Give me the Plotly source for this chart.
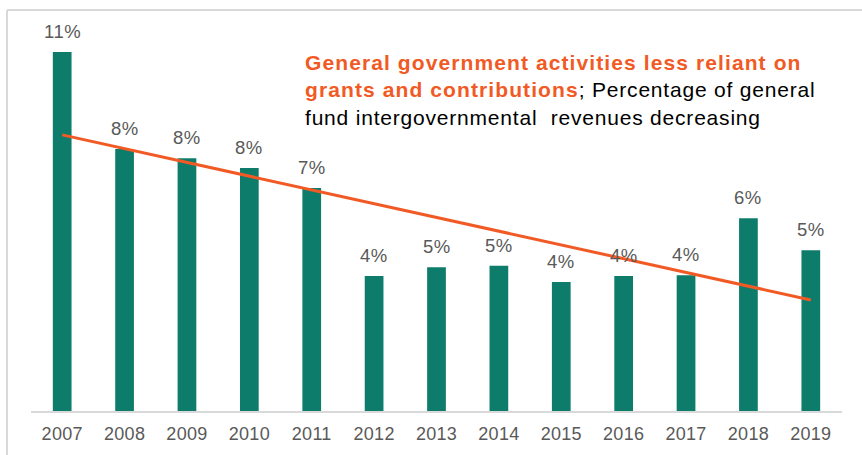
import numpy as np
import plotly.graph_objects as go

# Share of general fund revenue from intergovernmental sources (%)
years = ["2007", "2008", "2009", "2010", "2011", "2012", "2013",
         "2014", "2015", "2016", "2017", "2018", "2019"]
share_pct = [11.36, 8.29, 8.0, 7.69, 7.06, 4.27, 4.55,
             4.6, 4.08, 4.27, 4.3, 6.1, 5.09]

BAR_COLOR = "#0E7C6B"
TREND_COLOR = "#F15A24"
LABEL_COLOR = "#595959"
FONT = "Liberation Sans, Arial, sans-serif"


def spaced(txt, px):
    return f"<span style='letter-spacing:{px}px'>{txt}</span>"


# Linear trend across the period
idx = np.arange(len(years))
slope, intercept = np.polyfit(idx, share_pct, 1)
trend = slope * idx + intercept

fig = go.Figure()
fig.add_trace(go.Bar(
    x=years, y=share_pct,
    marker=dict(color=BAR_COLOR, line=dict(width=0)),
    hoverinfo="skip",
))
fig.add_trace(go.Scatter(
    x=years, y=trend, mode="lines",
    line=dict(color=TREND_COLOR, width=3),
    hoverinfo="skip",
))

# Value labels above each bar (category index positions)
for i, v in enumerate(share_pct):
    fig.add_annotation(
        x=i, y=v, text=spaced(f"{v:.0f}%", 0.5), showarrow=False,
        yanchor="bottom", yshift=8,
        font=dict(family=FONT, size=18.5, color=LABEL_COLOR),
    )

# Headline text
fig.add_annotation(
    xref="paper", yref="paper", x=0.335, y=0.95,
    xanchor="left", yanchor="top", align="left", showarrow=False,
    text=("<b><span style='color:#F15A24;letter-spacing:1.1px'>General government activities less reliant on"
          "<br>grants and contributions</span></b>"
          "<span style='letter-spacing:0.8px'>; Percentage of general"
          "<br>fund intergovernmental  revenues decreasing</span>"),
    font=dict(family=FONT, size=21, color="#000000"),
)

# Chart frame (left and top edges)
frame = dict(color="#D9D9D9", width=2)
fig.add_shape(type="line", xref="paper", yref="paper",
              x0=-0.0296, y0=-0.12, x1=-0.0296, y1=1.0525, line=frame)
fig.add_shape(type="line", xref="paper", yref="paper",
              x0=-0.0296, y0=1.0525, x1=1.03, y1=1.0525, line=frame)

fig.update_layout(
    width=862, height=455,
    margin=dict(l=31, r=20, t=30, b=44),
    paper_bgcolor="white", plot_bgcolor="white",
    showlegend=False,
    bargap=0.7,
    xaxis=dict(
        type="category", range=[-0.5, len(years) - 0.5],
        tickvals=years, ticktext=[spaced(y, 0.3) for y in years],
        showline=True, linecolor="#D9D9D9", linewidth=2,
        ticks="", showgrid=False, ticklabelstandoff=5,
        tickfont=dict(family=FONT, size=18, color=LABEL_COLOR),
    ),
    yaxis=dict(range=[0, 12.06], visible=False, showgrid=False),
)

fig.write_html("out.html")
